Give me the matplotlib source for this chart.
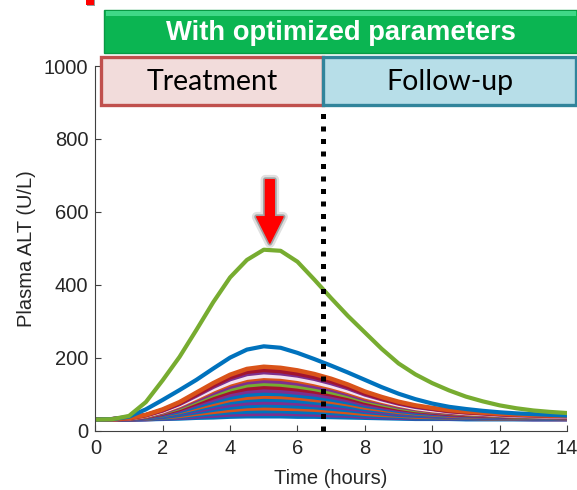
import matplotlib
matplotlib.use("Agg")
import matplotlib.pyplot as plt
import matplotlib.patheffects as pe
from matplotlib.patches import Rectangle

plt.rcParams['font.family'] = ['Liberation Sans', 'DejaVu Sans']

# time grid (hours), 0.5 h step
t_hours = [0, 0.5, 1, 1.5, 2, 2.5, 3, 3.5, 4, 4.5, 5, 5.5, 6, 6.5, 7,
           7.5, 8, 8.5, 9, 9.5, 10, 10.5, 11, 11.5, 12, 12.5, 13, 13.5, 14]

# highest responder (green) and second one (blue)
alt_green_top = [30, 31, 40, 78, 138, 202, 276, 352, 420, 468, 496, 493, 463, 414, 363,
                 314, 269, 224, 184, 154, 130, 110, 93, 80, 69, 61, 55, 51, 48]
alt_blue_top = [30, 31, 38, 58, 84, 111, 139, 170, 200, 222, 231, 227, 213, 196, 178,
                159, 139, 119, 101, 86, 74, 65, 59, 54, 50, 47, 45, 43, 41]

# rest of the simulated population, highest first
bundle_alt = [
    [30, 31, 34, 43, 58, 78, 104, 130, 153, 169, 175, 172, 165, 155, 142, 126, 107, 92, 79, 69, 62, 56, 52, 49, 46, 44, 42, 41, 40],
    [30, 31, 34, 42, 56, 75, 99, 124, 146, 161, 166, 163, 156, 147, 135, 120, 102, 88, 76, 67, 60, 54, 50, 48, 45, 43, 42, 40, 40],
    [30, 31, 34, 42, 55, 73, 96, 120, 141, 155, 160, 157, 151, 142, 130, 116, 99, 86, 74, 65, 59, 53, 50, 47, 44, 42, 41, 40, 39],
    [30, 31, 34, 41, 53, 70, 91, 113, 132, 145, 150, 148, 142, 133, 122, 109, 94, 82, 71, 62, 56, 52, 48, 46, 43, 41, 40, 39, 38],
    [30, 31, 33, 40, 52, 68, 88, 109, 127, 139, 144, 142, 136, 128, 118, 105, 90, 79, 69, 61, 55, 51, 47, 45, 43, 41, 40, 39, 38],
    [30, 31, 33, 40, 50, 65, 84, 103, 120, 132, 136, 134, 129, 121, 112, 100, 86, 76, 66, 59, 53, 49, 46, 44, 42, 40, 39, 38, 37],
    [30, 31, 33, 39, 49, 62, 80, 98, 113, 124, 128, 126, 121, 114, 105, 95, 82, 72, 63, 56, 52, 48, 45, 43, 41, 39, 38, 37, 37],
    [30, 31, 33, 38, 47, 59, 75, 91, 106, 115, 119, 117, 113, 107, 99, 89, 77, 68, 60, 54, 50, 46, 43, 42, 40, 38, 38, 37, 36],
    [30, 31, 32, 37, 45, 56, 71, 85, 98, 107, 110, 108, 104, 99, 92, 83, 72, 64, 57, 52, 48, 44, 42, 40, 39, 38, 37, 36, 36],
    [30, 31, 32, 36, 43, 53, 66, 79, 90, 98, 101, 100, 96, 91, 85, 77, 68, 61, 54, 49, 46, 43, 41, 39, 38, 37, 36, 35, 35],
    [30, 31, 32, 36, 42, 51, 62, 73, 84, 90, 93, 92, 89, 84, 79, 72, 63, 57, 51, 47, 44, 41, 39, 38, 37, 36, 35, 35, 34],
    [30, 31, 32, 35, 40, 48, 58, 68, 77, 83, 85, 84, 81, 77, 72, 66, 59, 54, 49, 45, 42, 40, 38, 37, 36, 35, 35, 34, 34],
    [30, 30, 31, 34, 39, 46, 54, 62, 70, 75, 77, 76, 74, 70, 66, 61, 55, 50, 46, 43, 40, 38, 37, 36, 35, 34, 34, 34, 33],
    [30, 30, 31, 34, 37, 43, 50, 57, 63, 67, 69, 68, 66, 64, 60, 56, 51, 47, 43, 41, 39, 37, 36, 35, 34, 34, 33, 33, 33],
    [30, 30, 31, 33, 36, 40, 46, 51, 56, 60, 61, 60, 59, 57, 54, 50, 46, 43, 41, 38, 37, 36, 35, 34, 33, 33, 33, 32, 32],
    [30, 30, 31, 32, 34, 38, 42, 46, 50, 52, 53, 53, 51, 50, 48, 45, 42, 40, 38, 36, 35, 34, 33, 33, 33, 32, 32, 32, 32],
    [30, 30, 30, 31, 33, 35, 38, 41, 44, 45, 46, 46, 45, 44, 42, 41, 38, 37, 35, 34, 34, 33, 32, 32, 32, 32, 31, 31, 31],
    [30, 30, 30, 31, 32, 33, 35, 36, 38, 39, 39, 39, 38, 38, 37, 36, 35, 34, 33, 32, 32, 32, 31, 31, 31, 31, 31, 31, 31],
]

BLUE = '#0072BD'
ORANGE = '#D95319'
PURPLE = '#7E2F8E'
GREEN = '#77AC30'
RED = '#A2142F'
bundle_colors = [ORANGE, RED, PURPLE, '#F3E3EF', ORANGE, PURPLE, GREEN, RED, PURPLE,
                 BLUE, ORANGE, BLUE, PURPLE, BLUE, ORANGE, BLUE, PURPLE, BLUE]

treatment_end = 6.75
peak_time = 5.18

AX_COL = '#404040'

fig = plt.figure(figsize=(5.77, 4.90), dpi=100)
ax = fig.add_axes([0.1652, 0.1214, 0.8175, 0.7439])

# lowest first so higher curves sit on top
for vals, c in reversed(list(zip(bundle_alt, bundle_colors))):
    ax.plot(t_hours, vals, color=c, lw=3.2, solid_joinstyle='round')
ax.plot(t_hours, alt_blue_top, color=BLUE, lw=3.0, solid_joinstyle='round')
ax.plot(t_hours, alt_green_top, color=GREEN, lw=3.0, solid_joinstyle='round')

# end of treatment
ax.plot([treatment_end, treatment_end], [0, 1000], color='black', lw=3.6,
        dashes=(1, 1.5), dash_capstyle='butt', clip_on=False, zorder=5)

# red arrow on the highest peak
ax.annotate('', xy=(peak_time, 514), xytext=(peak_time, 688),
            arrowprops=dict(arrowstyle='simple,head_length=0.95,head_width=0.95,tail_width=0.32',
                            color='red', shrinkA=0, shrinkB=0, mutation_scale=20,
                            path_effects=[pe.Stroke(linewidth=7, foreground='#999999', alpha=0.3),
                                          pe.Stroke(linewidth=3.5, foreground='#666666', alpha=0.5),
                                          pe.Normal()]))

ax.set_xlim(0, 14)
ax.set_ylim(0, 1000)
ax.set_xticks(range(0, 15, 2))
ax.set_yticks(range(0, 1001, 200))
ax.spines['top'].set_visible(False)
ax.spines['right'].set_visible(False)
for s in ('left', 'bottom'):
    ax.spines[s].set_color(AX_COL)
    ax.spines[s].set_linewidth(0.8)
ax.tick_params(direction='in', length=4, width=0.8, colors=AX_COL,
               labelsize=14.5, labelcolor='#262626')
ax.tick_params(axis='x', pad=6)
ax.tick_params(axis='y', pad=5)
ax.set_xlabel('Time (hours)', fontsize=14.5, color='#262626', labelpad=8)
ax.set_ylabel('Plasma ALT (U/L)', fontsize=14.5, color='#262626', labelpad=6)

# header boxes (figure pixel coordinates -> fraction)
W, H = 577.0, 490.0


def fig_rect(x0, y0, x1, y1, **kw):
    r = Rectangle((x0 / W, 1 - y1 / H), (x1 - x0) / W, (y1 - y0) / H,
                  transform=fig.transFigure, **kw)
    fig.add_artist(r)
    return r


fig_rect(104, 10, 578, 53, facecolor='#0BB552', edgecolor='#089A44', lw=1, zorder=3)
fig_rect(106, 11, 576, 16, facecolor='#3FD887', edgecolor='none', zorder=3)
fig.text(341 / W, 1 - 33 / H, 'With optimized parameters', color='white',
         fontsize=19.7, fontweight='bold', ha='center', va='center', zorder=4)

fig_rect(101.5, 57.5, 323, 105.5, facecolor='#F2DCDB', edgecolor='#C0504D', lw=2.4, zorder=3)
fig_rect(323, 57.5, 575.5, 105.5, facecolor='#B7DEE8', edgecolor='#31849B', lw=2.4, zorder=3)
fig.text(212 / W, 1 - 82 / H, 'Treatment', fontsize=20.5, family='Lato', color='black',
         ha='center', va='center', zorder=4)
fig.text(450 / W, 1 - 82 / H, 'Follow-up', fontsize=20.5, family='Lato', color='black',
         ha='center', va='center', zorder=4)

# small red mark cut at the top edge
fig_rect(86, -2, 94, 5, facecolor='red', edgecolor='none', zorder=3,
         path_effects=[pe.withSimplePatchShadow(offset=(1, -1), shadow_rgbFace='#555555', alpha=0.6)])

fig.savefig('out.png', dpi=100)
